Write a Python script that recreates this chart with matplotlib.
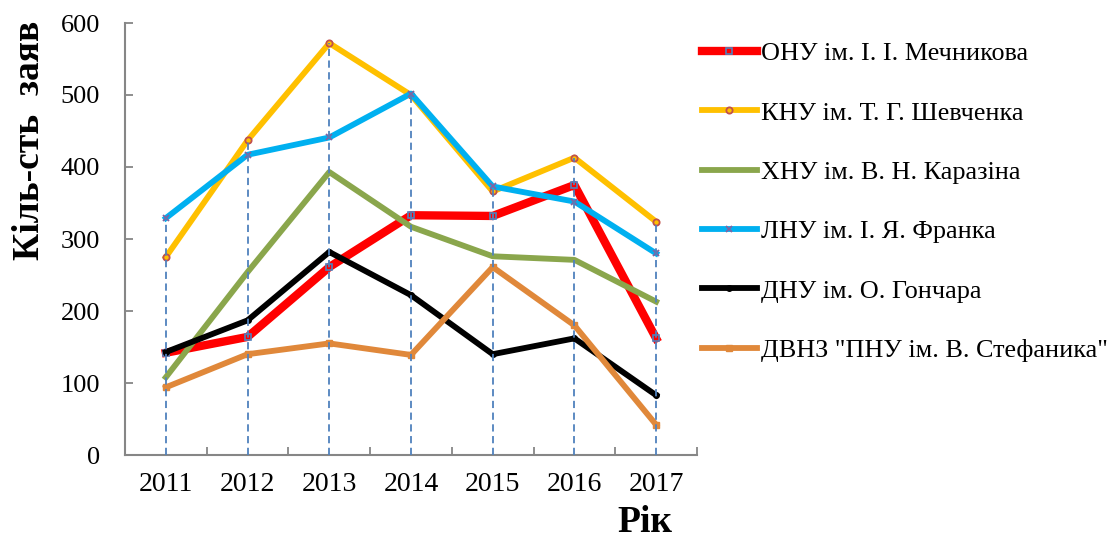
import numpy as np
import matplotlib
matplotlib.use('Agg')
import matplotlib.pyplot as plt

plt.rcParams['font.family'] = ['Liberation Serif', 'DejaVu Serif']

years = [2011, 2012, 2013, 2014, 2015, 2016, 2017]

onu = [142, 164, 261, 333, 332, 375, 162]
knu = [275, 437, 572, 500, 366, 413, 324]
khnu = [108, 254, 393, 317, 276, 271, 213]
lnu = [329, 417, 441, 502, 373, 352, 280]
dnu = [143, 187, 282, 222, 140, 162, 83]
pnu = [94, 140, 155, 139, 261, 180, 42]

labels = ['ОНУ ім. І. І. Мечникова',
          'КНУ ім. Т. Г. Шевченка',
          'ХНУ ім. В. Н. Каразіна',
          'ЛНУ ім. І. Я. Франка',
          'ДНУ ім. О. Гончара',
          'ДВНЗ "ПНУ ім. В. Стефаника"']

fig = plt.figure(figsize=(11.15, 5.38), dpi=100)
ax = fig.add_axes([125 / 1115, 1 - 455 / 538, (697 - 125) / 1115, (455 - 23) / 538])

x = np.array(years)

ax.plot(x, onu, color='#FF0000', lw=6, marker='s', ms=4.5, mfc='#FF0000',
        mec='#4F81BD', mew=1.2, label=labels[0], zorder=3)
ax.plot(x, knu, color='#FFC000', lw=4.2, marker='o', ms=4.5, mfc='#FFC000',
        mec='#C0504D', mew=1.3, label=labels[1], zorder=3)
ax.plot(x, khnu, color='#8AA64C', lw=4.2, label=labels[2], zorder=3)
ax.plot(x, lnu, color='#00B0F0', lw=4.2, marker='x', ms=4, mec='#8064A2',
        mew=1.3, label=labels[3], zorder=3)
ax.plot(x, dnu, color='#000000', lw=4.2, marker='o', ms=4, label=labels[4], zorder=3)
ax.plot(x, pnu, color='#E0883A', lw=4.2, marker='s', ms=4.5, label=labels[5], zorder=3)

# drop lines from the highest point down to the axis
tops = np.max([onu, knu, khnu, lnu, dnu, pnu], axis=0)
ax.vlines(x, 0, tops, colors='#4F81BD', linestyles=(0, (4, 2.5)), lw=1.3, zorder=4)

ax.set_xlim(2011 - 41 / 83.5, 2017 + 30 / 83.5)
ax.set_ylim(0, 600)
ax.set_yticks(range(0, 601, 100))
ax.set_xticks(years)
ax.set_xticks(np.arange(2010.5, 2017.6, 1), minor=True)
ax.tick_params(axis='x', which='major', length=0, labelsize=20, pad=12)
ax.tick_params(axis='x', which='minor', direction='in', length=6, color='#868686', width=1.3)
ax.tick_params(axis='y', direction='in', length=6, color='#868686', width=1.3,
               labelsize=19, pad=18)

for s in ['top', 'right']:
    ax.spines[s].set_visible(False)
for s in ['left', 'bottom']:
    ax.spines[s].set_color('#868686')
    ax.spines[s].set_linewidth(1.5)

fig.text(30 / 1115, 1 - 140 / 538, 'Кіль-сть  заяв', rotation=90, fontsize=27,
         fontweight='bold', ha='center', va='center')
fig.text(645 / 1115, 1 - 522 / 538, 'Рік', fontsize=27, fontweight='bold',
         ha='center', va='center')

ax.legend(loc='upper left', bbox_to_anchor=(702 / 1115, 1 - 42 / 538),
          bbox_transform=fig.transFigure, frameon=False, fontsize=18.8,
          handlelength=2.1, handletextpad=0.15, labelspacing=1.38, borderpad=0,
          borderaxespad=0)

fig.savefig('out.png', dpi=100)
